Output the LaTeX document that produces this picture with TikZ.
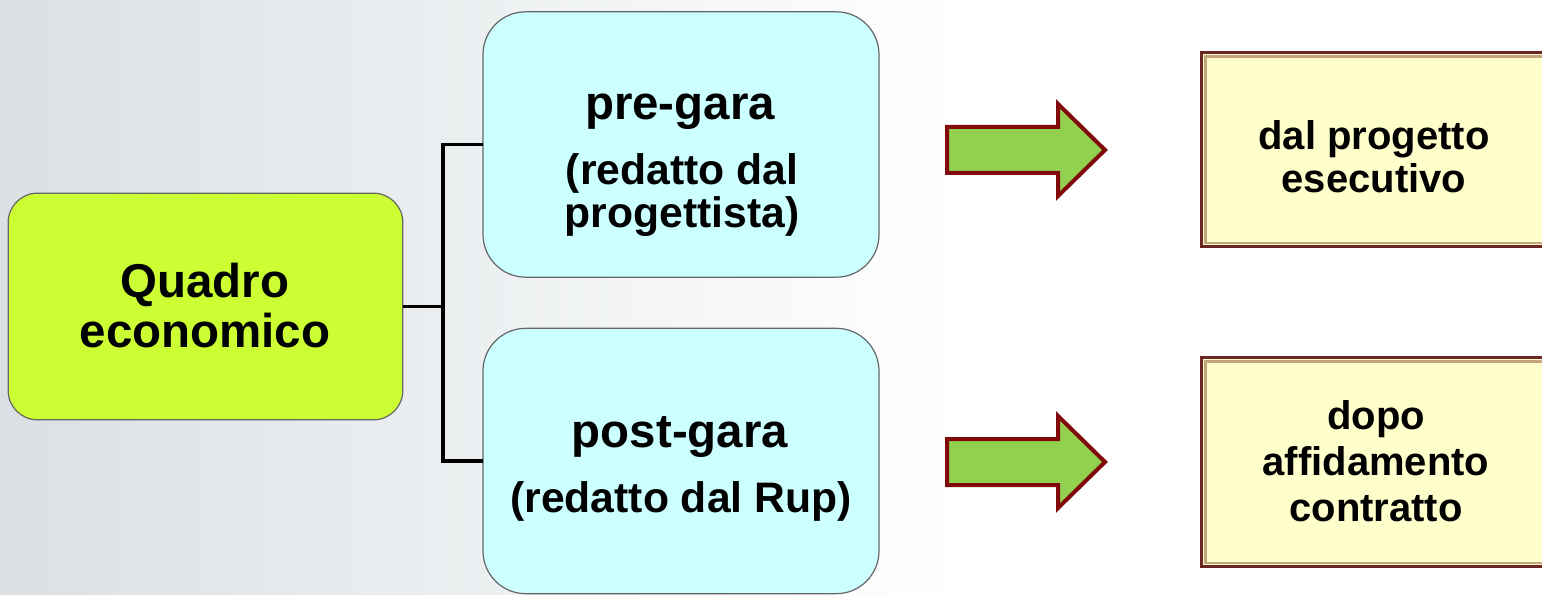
\documentclass[tikz,border=0pt]{standalone}
\usepackage{fontspec}
\setmainfont{Liberation Sans}
\definecolor{bggray}{RGB}{218,224,227}
\definecolor{qfill}{RGB}{204,255,51}
\definecolor{cfill}{RGB}{204,255,255}
\definecolor{yfill}{RGB}{255,255,204}
\definecolor{agreen}{RGB}{146,208,80}
\definecolor{ared}{RGB}{128,10,10}
\definecolor{bbrown}{RGB}{108,38,38}
\definecolor{btan}{RGB}{196,164,124}
\tikzset{
  px/.style={x=0.75pt,y=-0.75pt},
  roundbox/.style={draw=gray!80!black,line width=0.9pt,inner sep=0pt,outer sep=0pt},
  ybox/.style={draw=bbrown,fill=yfill,line width=2.4pt,inner sep=0pt,outer sep=0pt},
  conn/.style={line width=2.5pt,black},
  blockarrow/.style={fill=agreen,draw=ared,line width=3pt,line join=miter},
  big/.style={font=\fontsize{35.6pt}{38pt}\selectfont\bfseries,anchor=base,inner sep=0pt},
  mid/.style={font=\fontsize{32pt}{34pt}\selectfont\bfseries,anchor=base,inner sep=0pt},
  small/.style={font=\fontsize{30pt}{32pt}\selectfont\bfseries,anchor=base,inner sep=0pt}
}
\begin{document}
\begin{tikzpicture}[px]
\useasboundingbox (0,0) rectangle (1542,595);
\fill[white] (0,0) rectangle (1542,595);
\shade[left color=bggray,right color=white] (0,0) rectangle (960,595);
% boxes
\node[roundbox,fill=qfill,rounded corners=22pt,minimum width=296pt,minimum height=170pt] (quadro) at (205.5,306.5) {};
\node[roundbox,fill=cfill,rounded corners=32pt,minimum width=297pt,minimum height=199pt] (pre) at (681,144.5) {};
\node[roundbox,fill=cfill,rounded corners=32pt,minimum width=297pt,minimum height=199pt] (post) at (681,461) {};
% connectors
\coordinate (jn) at (443,306.5);
\draw[conn] (quadro.east) -- (jn);
\draw[conn] (pre.west) -| (jn) |- (post.west);
% arrows
\draw[blockarrow] (947,127) -- (1058,127) -- (1058,104) -- (1105,150) -- (1058,196) -- (1058,173) -- (947,173) -- cycle;
\draw[blockarrow] (947,439) -- (1058,439) -- (1058,416) -- (1105,462) -- (1058,508) -- (1058,485) -- (947,485) -- cycle;
% right boxes
\node[ybox,minimum width=260pt,minimum height=146pt] (exec) at (1375,149.5) {};
\draw[btan,line width=1.6pt] (1205.5,56.5) rectangle (1550,243);
\node[ybox,minimum width=260pt,minimum height=157pt] (dopo) at (1375,462) {};
\draw[btan,line width=1.6pt] (1205.5,361.5) rectangle (1550,563);
% texts
\node[big] (q1) at (205,297) {Quadro};
\node[big] (q2) at (205,347) {economico};
\node[big] (p1) at (680,120) {pre-gara};
\node[mid] (p2) at (682,185) {(redatto dal};
\node[mid] (p3) at (682,228) {progettista)};
\node[big] (s1) at (680,447) {post-gara};
\node[mid] (s2) at (681,512) {(redatto dal Rup)};
\node[small] (e1) at (1374,150) {dal progetto};
\node[small] (e2) at (1374,193) {esecutivo};
\node[small] (d1) at (1376,429) {dopo};
\node[small] (d2) at (1376,475) {affidamento};
\node[small] (d3) at (1376,521) {contratto};
\end{tikzpicture}
\end{document}
